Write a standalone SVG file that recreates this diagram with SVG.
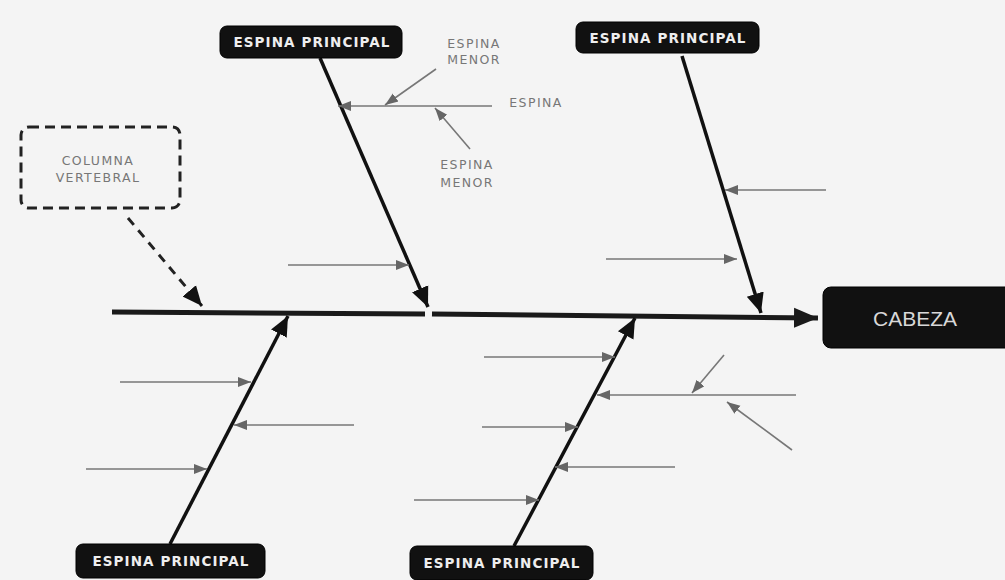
<svg xmlns="http://www.w3.org/2000/svg" width="1005" height="580" viewBox="0 0 1005 580">
<style>
.bg{fill:#f4f4f4}
.box{fill:#111;stroke:#000;stroke-width:1}
.lbl{fill:#eee;font-family:"DejaVu Sans",Verdana,sans-serif;font-weight:bold;font-size:13.5px;letter-spacing:1.1px;text-anchor:middle}
.head{fill:#d8d8d8;font-family:"Liberation Sans",Arial,sans-serif;font-size:21px;text-anchor:middle}
.note{fill:#777;font-family:"DejaVu Sans",Verdana,sans-serif;font-size:12.5px;letter-spacing:1.4px;text-anchor:middle}
.spine{stroke:#1a1a1a;stroke-width:5;fill:none}
.bone{stroke:#111;stroke-width:3.5;fill:none;marker-end:url(#big)}
.minor{stroke:#777;stroke-width:1.6;fill:none;marker-end:url(#small)}
.dash{fill:none;stroke:#222;stroke-width:3;stroke-dasharray:10,6}
</style>
<defs>
<marker id="big" markerUnits="userSpaceOnUse" markerWidth="22" markerHeight="20" refX="18" refY="8" orient="auto" viewBox="0 0 20 16">
<path d="M0,0 L18,8 L0,16 Z" fill="#111"/>
</marker>
<marker id="small" markerUnits="userSpaceOnUse" markerWidth="14" markerHeight="12" refX="13" refY="5" orient="auto" viewBox="0 0 14 10">
<path d="M0,0 L13,5 L0,10 Z" fill="#666"/>
</marker>
<marker id="spinehead" markerUnits="userSpaceOnUse" markerWidth="26" markerHeight="22" refX="24" refY="10" orient="auto" viewBox="0 0 26 20">
<path d="M0,0 L24,10 L0,20 Z" fill="#1a1a1a"/>
</marker>
</defs>
<rect class="bg" x="0" y="0" width="1005" height="580"/>

<g id="connectors">
<line class="spine" x1="112" y1="312" x2="425" y2="314"/>
<line class="spine" x1="432" y1="314" x2="818" y2="318" style="marker-end:url(#spinehead)"/>
<line class="bone" x1="320" y1="58" x2="428" y2="307"/>
<line class="bone" x1="682" y1="56" x2="761" y2="313"/>
<line class="bone" x1="170" y1="544" x2="288" y2="316"/>
<line class="bone" x1="514" y1="546" x2="635" y2="318"/>
<line class="minor" x1="492" y1="106" x2="338" y2="106"/>
<line class="minor" x1="436" y1="69" x2="385" y2="105"/>
<line class="minor" x1="470" y1="149" x2="435" y2="108"/>
<line class="minor" x1="288" y1="265" x2="409" y2="265"/>
<line class="minor" x1="826" y1="190" x2="725" y2="190"/>
<line class="minor" x1="606" y1="259" x2="737" y2="259"/>
<line class="minor" x1="120" y1="382" x2="251" y2="382"/>
<line class="minor" x1="354" y1="425" x2="234" y2="425"/>
<line class="minor" x1="86" y1="469" x2="207" y2="469"/>
<line class="minor" x1="484" y1="357" x2="615" y2="357"/>
<line class="minor" x1="796" y1="395" x2="597" y2="395"/>
<line class="minor" x1="724" y1="355" x2="692" y2="393"/>
<line class="minor" x1="792" y1="450" x2="727" y2="402"/>
<line class="minor" x1="482" y1="427" x2="578" y2="427"/>
<line class="minor" x1="675" y1="467" x2="555" y2="467"/>
<line class="minor" x1="414" y1="500" x2="539" y2="500"/>
<line x1="128" y1="218" x2="202" y2="306" stroke="#222" stroke-width="3" stroke-dasharray="9,7" marker-end="url(#big)"/>
</g>

<g id="cabeza">
<rect class="box" x="823" y="287" width="190" height="61" rx="8"/>
<text class="head" x="915" y="326">CABEZA</text>
</g>
<g id="principal-top-left">
<rect class="box" x="220" y="26" width="182" height="32" rx="7"/>
<text class="lbl" x="312" y="47">ESPINA PRINCIPAL</text>
</g>
<g id="principal-top-right">
<rect class="box" x="576" y="22" width="183" height="31" rx="7"/>
<text class="lbl" x="668" y="43">ESPINA PRINCIPAL</text>
</g>
<g id="principal-bottom-left">
<rect class="box" x="76" y="544" width="189" height="34" rx="7"/>
<text class="lbl" x="171" y="566">ESPINA PRINCIPAL</text>
</g>
<g id="principal-bottom-right">
<rect class="box" x="410" y="546" width="183" height="34" rx="7"/>
<text class="lbl" x="502" y="568">ESPINA PRINCIPAL</text>
</g>
<g id="columna">
<rect class="dash" x="21" y="127" width="159" height="81" rx="8"/>
<text class="note" x="98" y="165">COLUMNA</text>
<text class="note" x="98" y="182">VERTEBRAL</text>
</g>
<g id="espina-menor-top">
<text class="note" x="474" y="48">ESPINA</text>
<text class="note" x="474" y="64">MENOR</text>
</g>
<g id="espina">
<text class="note" x="536" y="107">ESPINA</text>
</g>
<g id="espina-menor-bottom">
<text class="note" x="467" y="169">ESPINA</text>
<text class="note" x="467" y="187">MENOR</text>
</g>
</svg>
